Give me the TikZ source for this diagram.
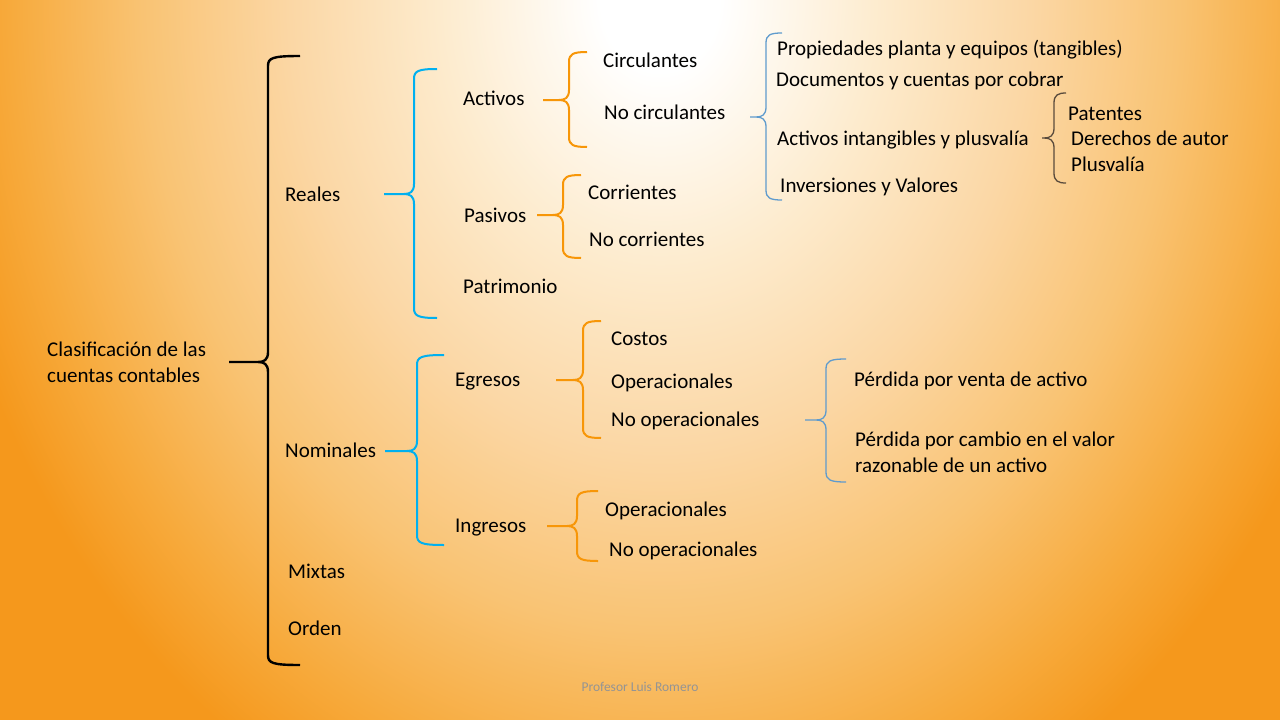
\documentclass[tikz,border=0pt]{standalone}
\usepackage{fontspec}
\setmainfont{Carlito}
\usepackage{tikz}
\usetikzlibrary{positioning}
\definecolor{bgorange}{RGB}{245,152,28}
\definecolor{bgdeep}{RGB}{247,170,60}
\definecolor{bglight}{RGB}{249,195,115}
\definecolor{bgpeach}{RGB}{251,215,165}
\definecolor{bgcream}{RGB}{253,235,205}
\definecolor{cyanb}{RGB}{0,176,240}
\definecolor{orangeb}{RGB}{247,150,8}
\definecolor{steelb}{RGB}{95,155,205}
\definecolor{darkb}{RGB}{90,75,60}
\pgfdeclareradialshading{slidebg}{\pgfpoint{0bp}{0bp}}{%
  color(0bp)=(white); color(2bp)=(white); color(7.5bp)=(bgcream);
  color(12.5bp)=(bgpeach); color(17.5bp)=(bglight); color(22bp)=(bgdeep);
  color(25bp)=(bgorange); color(50bp)=(bgorange)}
\tikzset{
  lbl/.style={anchor=base west, inner sep=0pt, align=left,
              font=\fontsize{21}{26}\selectfont},
  foot/.style={anchor=base, inner sep=0pt, text=black!42,
               font=\fontsize{13.5}{15}\selectfont},
  brblack/.style={draw=black, line width=2.4pt},
  brcyan/.style={draw=cyanb, line width=2pt},
  brorange/.style={draw=orangeb, line width=2pt},
  brsteel/.style={draw=steelb, line width=1.3pt},
  brdark/.style={draw=darkb, line width=1.3pt}
}
% #1 style, #2 tip x, #3 spine x, #4 end x, #5 top y, #6 tip y, #7 bottom y
\newcommand\clave[7]{%
  \draw[#1] (#4,#5) .. controls (#3+4,#5) and (#3,#5+2) .. (#3,#5+10)
    -- (#3,#6-10) .. controls (#3,#6-2) and (#3-4,#6) .. (#3-10,#6) -- (#2,#6)
    (#3-10,#6) .. controls (#3-4,#6) and (#3,#6+2) .. (#3,#6+10)
    -- (#3,#7-10) .. controls (#3,#7-2) and (#3+4,#7) .. (#4,#7);}

\begin{document}
\begin{tikzpicture}[x=1pt,y=-1pt]
\useasboundingbox (0,0) rectangle (1280,720);
\clip (0,0) rectangle (1280,720);
\fill[bgorange] (0,0) rectangle (1280,720);
\shade[shading=slidebg] (660,0) ellipse [x radius=740pt, y radius=900pt];

% first level
\node[lbl] (clasif) at (47,382.5) {Clasificación de las\\cuentas contables};
\clave{brblack}{229}{268}{300}{56}{362}{665}
\node[lbl] (reales) at (285,201.5) {Reales};
\node[lbl] (nominales) at (285,457.5) {Nominales};
\node[lbl] (mixtas) at (288,578.5) {Mixtas};
\node[lbl] (orden) at (288,635.5) {Orden};

% reales
\clave{brcyan}{384}{414}{437}{69}{194}{318}
\node[lbl] (activos) at (463,105.5) {Activos};
\node[lbl] (pasivos) at (464,222.5) {Pasivos};
\node[lbl] (patrim) at (463,293.5) {Patrimonio};

\clave{brorange}{543}{569}{587}{52}{100}{147}
\node[lbl] (circ) at (603,67.5) {Circulantes};
\node[lbl] (nocirc) at (604,119.5) {No circulantes};

\clave{brorange}{537}{563}{581}{175}{215}{258}
\node[lbl] (corr) at (588,199.5) {Corrientes};
\node[lbl] (nocorr) at (589,246.5) {No corrientes};

\clave{brsteel}{750}{766}{782}{33}{117}{200}
\node[lbl] (prop) at (777,55.5) {Propiedades planta y equipos (tangibles)};
\node[lbl] (docs) at (776,86.5) {Documentos y cuentas por cobrar};
\node[lbl] (intang) at (777,145.5) {Activos intangibles y plusvalía};
\node[lbl] (invers) at (780,192.5) {Inversiones y Valores};

\clave{brdark}{1042}{1054}{1066}{93}{138}{183}
\node[lbl] (patentes) at (1068,120.5) {Patentes};
\node[lbl] (derechos) at (1071,145.5) {Derechos de autor};
\node[lbl] (plusv) at (1071,171.5) {Plusvalía};

% nominales
\clave{brcyan}{385}{417}{444}{355}{451}{545}
\node[lbl] (egresos) at (455,386.5) {Egresos};
\node[lbl] (ingresos) at (455,532.5) {Ingresos};

\clave{brorange}{556}{583}{601}{321}{380}{438}
\node[lbl] (costos) at (611,345.5) {Costos};
\node[lbl] (egop) at (611,388.5) {Operacionales};
\node[lbl] (egnoop) at (611,426.5) {No operacionales};

\clave{brsteel}{805}{826}{846}{359}{420}{482}
\node[lbl] (perdventa) at (854,386.5) {Pérdida por venta de activo};
\node[lbl] (perdcambio) at (855,472.5) {Pérdida por cambio en el valor\\razonable de un activo};

\clave{brorange}{547}{577}{598}{491}{526}{561}
\node[lbl] (ingop) at (605,516.5) {Operacionales};
\node[lbl] (ingnoop) at (609,556.5) {No operacionales};

\node[foot] (autor) at (640,691) {Profesor Luis Romero};
\end{tikzpicture}
\end{document}
